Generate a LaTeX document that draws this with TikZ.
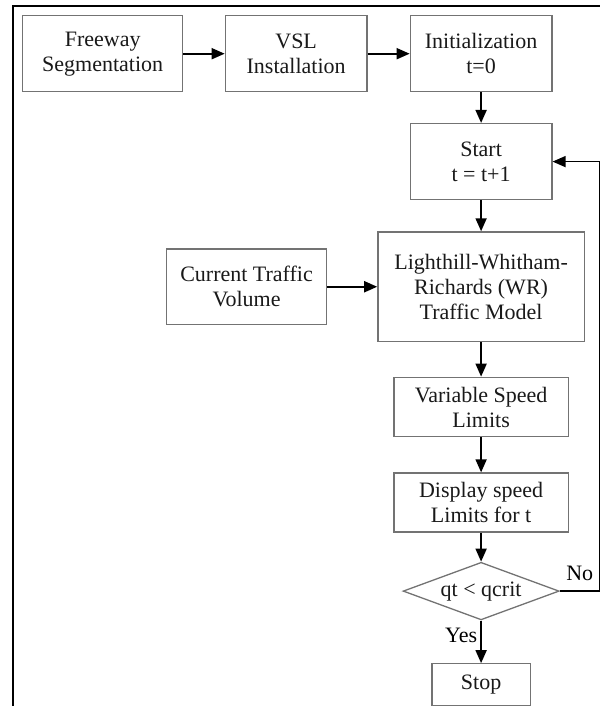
\documentclass[tikz,border=0pt]{standalone}
\usepackage{fontspec}
\setmainfont{Liberation Serif}
\usepackage{tikz}
\usetikzlibrary{positioning,arrows.meta,shapes.geometric}

\begin{document}
\begin{tikzpicture}[
  node distance=15pt,
  box/.style={draw=black!55, line width=0.65pt, align=center, inner sep=1pt,
              font=\fontsize{11}{12.5}\selectfont, text=black!90},
  cond/.style={box, diamond, aspect=2.7, inner sep=0pt, minimum width=78pt, minimum height=28.8pt},
  arr/.style={-{Triangle[length=6.5pt, width=5.5pt]}, line width=0.9pt},
  lbl/.style={font=\fontsize{11}{12.5}\selectfont, inner sep=1.5pt}]
  \useasboundingbox (0,0) rectangle (300pt,-353pt);
  % outer frame
  \draw[line width=1pt] (6.25pt,-353pt) -- (6.25pt,-2.85pt) -- (300pt,-2.85pt);
  % top row
  \node[box, minimum width=80pt, minimum height=38pt] (fseg) at (51.35pt,-26.85pt)
      {Freeway\\Segmentation};
  \node[box, minimum width=70.85pt, minimum height=38pt, right=20.65pt of fseg] (vsl)
      {VSL\\Installation};
  \node[box, minimum width=70.8pt, minimum height=38pt, right=21pt of vsl] (init)
      {Initialization\\t=0};
  % main column
  \node[box, minimum width=70.8pt, minimum height=38pt, below=15.3pt of init] (start)
      {Start\\t = t+1};
  \node[box, minimum width=103.25pt, minimum height=54.85pt, below=15.5pt of start] (lwr)
      {Lighthill-Whitham-\\Richards (WR)\\Traffic Model};
  \node[box, minimum width=80pt, minimum height=37.85pt, left=25pt of lwr] (ctv)
      {Current Traffic\\Volume};
  \node[box, minimum width=87.15pt, minimum height=29.7pt, below=17.2pt of lwr] (vlim)
      {Variable Speed\\Limits};
  \node[box, minimum width=87.15pt, minimum height=29.5pt, below=17.5pt of vlim] (disp)
      {Display speed\\Limits for t};
  \node[cond, below=14.5pt of disp] (crit) {qt < qcrit};
  \node[box, minimum width=49.2pt, minimum height=21.15pt, below=21.3pt of crit] (stop)
      {Stop};
  \coordinate[right=23.6pt of start.east] (back);
  \foreach \a/\b in {fseg/vsl, vsl/init, init/start, start/lwr, ctv/lwr,
                     lwr/vlim, vlim/disp, disp/crit}
    \draw[arr] (\a) -- (\b);
  \draw[arr] (crit.south) -- node[lbl, left, pos=0.35] {Yes} (stop.north);
  \draw[arr, line width=0.7pt] (crit.east) -| node[lbl, above=3.5pt, pos=0.25] {No} (back) -- (start.east);
\end{tikzpicture}
\end{document}
